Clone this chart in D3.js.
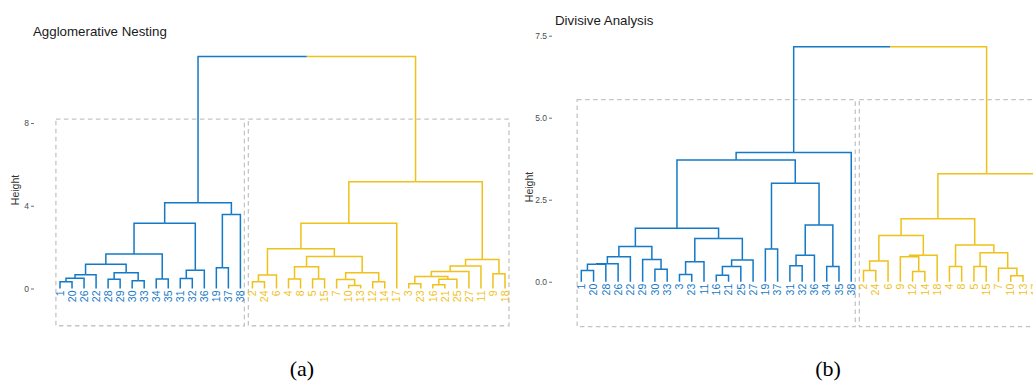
<!DOCTYPE html>
<html>
<head>
<meta charset="utf-8">
<script src="https://cdn.jsdelivr.net/npm/d3@7"></script>
<style>
  body { margin: 0; background: #fff; }
  svg { display: block; }
</style>
</head>
<body>
<svg id="fig" width="1033" height="381"></svg>
<script>
// Merge steps in hclust form: [left, right, height].
// Negative entries are observation ids, positive entries refer to an earlier step (1-based).
const agnesMerge = [
  [-1, -20, 0.33], [1, -26, 0.50], [2, -22, 0.66], [-28, -29, 0.45], [-30, -33, 0.38],
  [4, 5, 0.76], [3, 6, 1.17], [-34, -35, 0.46], [7, 8, 1.67], [-31, -32, 0.48],
  [10, -36, 0.88], [9, 11, 3.15], [-19, -37, 1.00], [13, -38, 3.58], [12, 14, 4.14],
  [-2, -24, 0.33], [16, -6, 0.65], [-4, -8, 0.46], [-5, -15, 0.46], [18, 19, 1.05],
  [-10, -13, 0.15], [-7, 21, 0.44], [-12, -14, 0.33], [22, 23, 0.76], [20, 24, 1.55],
  [17, 25, 1.92], [26, -17, 3.15], [-3, -23, 0.23], [-16, -21, 0.18], [29, -25, 0.45],
  [28, 30, 0.58], [31, -27, 0.82], [32, -11, 1.09], [-9, -18, 0.71], [33, 34, 1.40],
  [27, 35, 5.16], [15, 36, 11.21]
];

const dianaMerge = [
  [-1, -20, 0.34], [1, -28, 0.53], [2, -26, 0.55], [3, -22, 0.76], [-30, -33, 0.38],
  [-29, 5, 0.68], [4, 6, 1.07], [-3, -23, 0.22], [8, -11, 0.61], [-16, -21, 0.20],
  [10, -25, 0.46], [11, -27, 0.66], [9, 12, 1.32], [7, 13, 1.63], [-19, -37, 1.00],
  [-31, -32, 0.49], [16, -36, 0.81], [-34, -35, 0.46], [17, 18, 1.73], [15, 19, 3.00],
  [14, 20, 3.71], [21, -38, 3.94],
  [-2, -24, 0.34], [23, -6, 0.63], [-12, -14, 0.31], [-9, 25, 0.76], [26, -18, 0.81],
  [24, 27, 1.41], [-4, -8, 0.46], [-5, -15, 0.46], [-10, -13, 0.18], [-7, 31, 0.41],
  [30, 32, 0.88], [29, 33, 1.12], [28, 34, 1.92], [35, -17, 3.29], [22, 36, 7.16]
];

const agnesTicks = [0, 4, 8];
const dianaTicks = [0, 2.5, 5, 7.5];
const clusterColors = ["#1479C6", "#EFC11A"];

const svg = d3.select("#fig");

// Turn a merge table into a nested tree (last step is the root).
function buildTree(merge) {
  const steps = [];
  const node = ref => ref < 0 ? { label: String(-ref), height: 0 } : steps[ref - 1];
  merge.forEach(([a, b, h]) => steps.push({ height: h, children: [node(a), node(b)] }));
  return steps[steps.length - 1];
}

function drawDendrogram(cfg) {
  const rootData = buildTree(cfg.merge);
  const root = d3.hierarchy(rootData);
  const leaves = root.leaves();
  // k = 2: the two subtrees under the root form the clusters
  root.children.forEach((c, i) => c.each(d => { d.cluster = i; }));

  const x = d3.scalePoint().domain(leaves.map(d => d.data.label)).range(cfg.xRange);
  const y = d3.scaleLinear().domain(cfg.yDomain).range(cfg.yRange);

  root.eachAfter(d => {
    d.px = d.children ? d3.mean(d.children, c => c.px) : x(d.data.label);
  });

  const g = svg.append("g");

  // Title
  g.append("text")
    .attr("x", cfg.titlePos[0]).attr("y", cfg.titlePos[1])
    .attr("font-family", "Liberation Sans, Arial, sans-serif")
    .attr("font-size", 13.3).attr("fill", "#1a1a1a")
    .text(cfg.title);

  // Y axis
  const axis = d3.axisLeft(y).tickValues(cfg.ticks).tickSize(3).tickPadding(2)
    .tickFormat(cfg.tickFormat);
  const ax = g.append("g").attr("transform", `translate(${cfg.axisX},0)`).call(axis);
  ax.select(".domain").remove();
  ax.selectAll(".tick line").attr("stroke", "#4d4d4d").attr("stroke-width", 0.8);
  ax.selectAll(".tick text").attr("fill", "#4d4d4d").attr("font-size", 8.5)
    .attr("font-family", "Liberation Sans, Arial, sans-serif");

  g.append("text")
    .attr("transform", `translate(${cfg.ylabelPos[0]},${cfg.ylabelPos[1]}) rotate(-90)`)
    .attr("text-anchor", "middle")
    .attr("font-family", "Liberation Sans, Arial, sans-serif")
    .attr("font-size", 10.5).attr("fill", "#333")
    .text("Height");

  // Cluster rectangles
  const heights = cfg.merge.map(m => m[2]).sort((a, b) => b - a);
  const rectTop = (heights[0] + heights[1]) / 2;
  const step = x.step();
  root.children.forEach(c => {
    const lv = c.leaves();
    const x0 = x(lv[0].data.label) - 0.34 * step;
    const x1 = x(lv[lv.length - 1].data.label) + 0.33 * step;
    g.append("rect")
      .attr("x", x0).attr("y", y(rectTop))
      .attr("width", x1 - x0).attr("height", y(cfg.rectLower) - y(rectTop))
      .attr("fill", "none").attr("stroke", "#c4c4c4")
      .attr("stroke-width", 1.3).attr("stroke-dasharray", "4.5,3.5");
  });

  // Branches: elbow from each child up to its parent
  const links = root.descendants().filter(d => d.parent);
  g.append("g").selectAll("path").data(links).join("path")
    .attr("d", d => `M${d.px},${y(d.data.height)}V${y(d.parent.data.height)}H${d.parent.px}`)
    .attr("fill", "none")
    .attr("stroke", d => clusterColors[d.cluster])
    .attr("stroke-width", 1.5);

  // Leaf labels
  g.append("g").selectAll("text").data(leaves).join("text")
    .attr("transform", d => `translate(${d.px},${y(0) + cfg.labelGap}) rotate(-90)`)
    .attr("text-anchor", "end")
    .attr("dy", "0.35em")
    .attr("font-family", "Liberation Sans, Arial, sans-serif")
    .attr("font-size", 10.5)
    .attr("fill", d => clusterColors[d.cluster])
    .text(d => d.data.label);
}

drawDendrogram({
  merge: agnesMerge, title: "Agglomerative Nesting", titlePos: [33, 36],
  xRange: [60, 505], yDomain: [0, 8], yRange: [288.5, 123],
  ticks: agnesTicks, tickFormat: d3.format("d"), axisX: 34,
  ylabelPos: [19, 190], rectLower: -1.8, labelGap: 2
});

drawDendrogram({
  merge: dianaMerge, title: "Divisive Analysis", titlePos: [555, 25],
  xRange: [581.3, 1035.3], yDomain: [0, 7.5], yRange: [281.7, 35.7],
  ticks: dianaTicks, tickFormat: d3.format(".1f"), axisX: 552,
  ylabelPos: [533, 187], rectLower: -1.37, labelGap: 2
});

// Panel captions
[["(a)", 302], ["(b)", 828]].forEach(([t, cx]) => {
  svg.append("text").attr("x", cx).attr("y", 376)
    .attr("text-anchor", "middle")
    .attr("font-family", "Liberation Serif, Times New Roman, serif")
    .attr("font-size", 22).attr("fill", "#000")
    .text(t);
});
</script>
</body>
</html>
